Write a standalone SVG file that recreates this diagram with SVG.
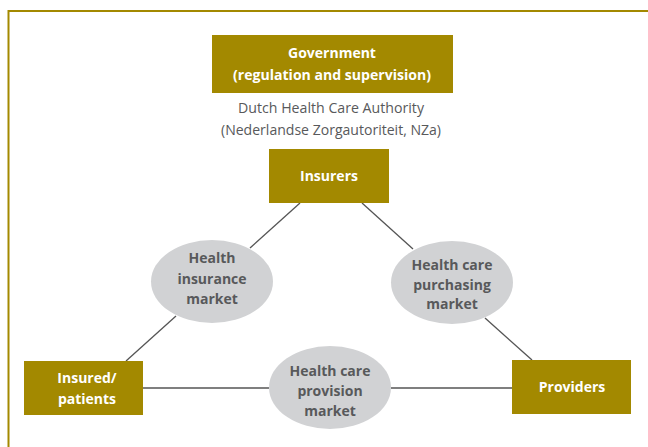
<svg xmlns="http://www.w3.org/2000/svg" width="648" height="447" viewBox="0 0 648 447">
<style>
.box{fill:#a38900}
.mkt{fill:#d1d2d4}
.bt{font-family:"Open Sans","Noto Sans",sans-serif;font-weight:bold;font-size:14px;fill:#ffffff;text-anchor:middle}
.mt{font-family:"Open Sans","Noto Sans",sans-serif;font-weight:bold;font-size:14px;fill:#58595b;text-anchor:middle}
.st{font-family:"Open Sans","Noto Sans",sans-serif;font-size:14px;fill:#58595b;text-anchor:middle}
.ln{stroke:#555555;stroke-width:1.3;fill:none}
</style>
<rect x="0" y="0" width="648" height="447" fill="#ffffff"/>
<rect x="8.5" y="11" width="700" height="500" fill="none" stroke="#a38900" stroke-width="2"/>
<g id="connectors">
<line class="ln" x1="300" y1="203" x2="250" y2="248"/>
<line class="ln" x1="362" y1="203" x2="413" y2="249"/>
<line class="ln" x1="176" y1="316" x2="126" y2="361"/>
<line class="ln" x1="485" y1="318" x2="532" y2="360"/>
<line class="ln" x1="143" y1="388" x2="269" y2="388"/>
<line class="ln" x1="391" y1="388" x2="512" y2="388"/>
</g>
<g id="government">
<rect class="box" x="212" y="35" width="241" height="58"/>
<text class="bt" x="332" y="58">Government</text>
<text class="bt" x="332" y="80" textLength="198" lengthAdjust="spacingAndGlyphs">(regulation and supervision)</text>
</g>
<g id="nza">
<text class="st" x="331" y="113" textLength="186" lengthAdjust="spacingAndGlyphs">Dutch Health Care Authority</text>
<text class="st" x="331" y="135" textLength="220" lengthAdjust="spacingAndGlyphs">(Nederlandse Zorgautoriteit, NZa)</text>
</g>
<g id="insurers">
<rect class="box" x="269" y="149" width="120" height="54"/>
<text class="bt" x="329" y="181">Insurers</text>
</g>
<g id="health-insurance-market">
<ellipse class="mkt" cx="212" cy="281.5" rx="61" ry="41.5"/>
<text class="mt" x="212" y="263">Health</text>
<text class="mt" x="212" y="284">insurance</text>
<text class="mt" x="212" y="304">market</text>
</g>
<g id="health-care-purchasing-market">
<ellipse class="mkt" cx="452" cy="282.5" rx="61" ry="41.5"/>
<text class="mt" x="452" y="270">Health care</text>
<text class="mt" x="452" y="290">purchasing</text>
<text class="mt" x="452" y="309">market</text>
</g>
<g id="health-care-provision-market">
<ellipse class="mkt" cx="330" cy="387.5" rx="61" ry="41.5"/>
<text class="mt" x="330" y="376">Health care</text>
<text class="mt" x="330" y="396">provision</text>
<text class="mt" x="330" y="416">market</text>
</g>
<g id="insured-patients">
<rect class="box" x="24" y="361" width="119" height="54"/>
<text class="bt" x="87" y="383">Insured/</text>
<text class="bt" x="87" y="404">patients</text>
</g>
<g id="providers">
<rect class="box" x="512" y="360" width="119" height="54"/>
<text class="bt" x="572" y="392">Providers</text>
</g>
</svg>
